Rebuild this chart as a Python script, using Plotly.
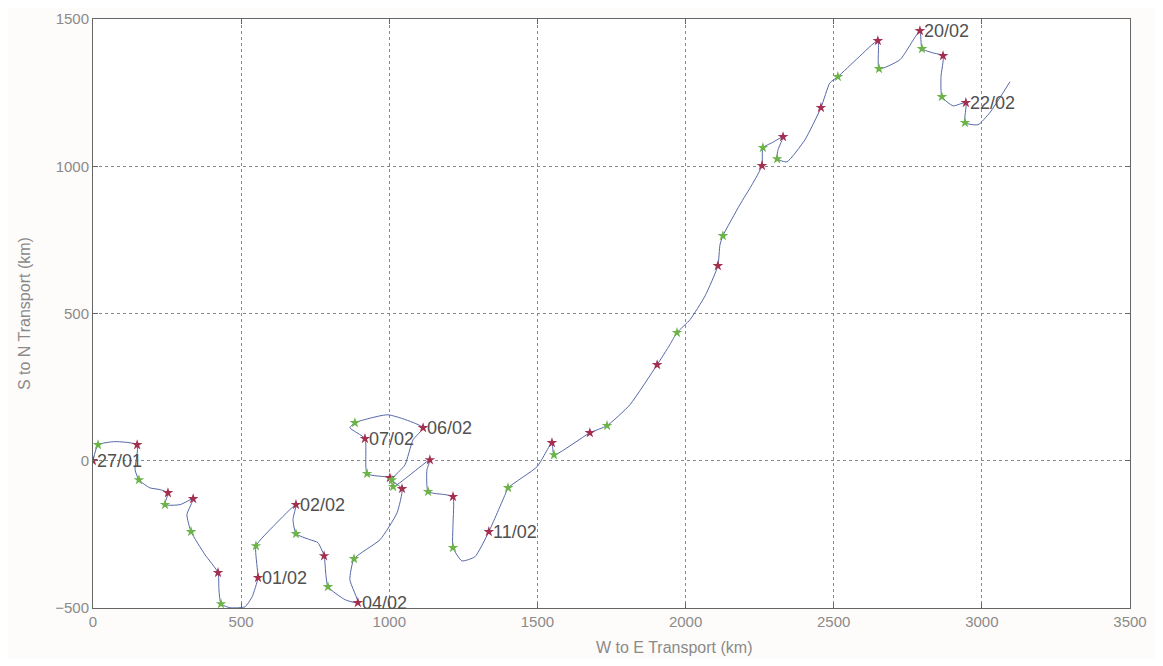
import plotly.graph_objects as go

# Trajectory (km): W->E transport, S->N transport
track_x = [0, 17, 74, 149, 142, 155, 192, 226, 253, 243, 294, 338, 317, 331, 378, 422, 425, 432,
           462, 513, 537, 557, 553, 550, 614, 685, 675, 685, 732, 759, 780, 786, 793, 851, 894,
           867, 881, 969, 1026, 1043, 1009, 1053, 1080, 1114, 996, 884, 867, 918, 925, 1002, 1013,
           1137, 1127, 1131, 1188, 1215, 1215, 1215, 1245, 1289, 1336, 1391, 1401, 1499, 1549,
           1556, 1677, 1735, 1812, 1904, 1947, 1971, 2015, 2066, 2109, 2116, 2126, 2183, 2224,
           2258, 2261, 2292, 2329, 2312, 2309, 2342, 2403, 2457, 2487, 2514, 2582, 2649, 2653,
           2724, 2791, 2798, 2835, 2869, 2862, 2865, 2903, 2946, 2943, 2987, 3027, 3095]
track_y = [0, 54, 65, 54, -31, -65, -92, -98, -109, -149, -149, -129, -183, -241, -319, -380,
           -438, -486, -499, -496, -462, -397, -353, -289, -217, -149, -200, -248, -268, -278,
           -323, -387, -428, -472, -482, -404, -333, -268, -177, -95, -65, -14, 71, 112, 156,
           129, 112, 75, -44, -58, -88, 3, -31, -105, -115, -122, -217, -295, -340, -326, -241,
           -115, -92, -20, 61, 20, 95, 119, 190, 326, 394, 435, 479, 560, 662, 733, 764, 869,
           937, 1002, 1063, 1080, 1100, 1056, 1025, 1015, 1090, 1199, 1283, 1304, 1368, 1426,
           1331, 1362, 1460, 1399, 1385, 1375, 1304, 1236, 1205, 1216, 1148, 1141, 1182, 1287]

# 00h positions (red) and 12h positions (green)
red_x = [0, 149, 253, 338, 422, 557, 685, 780, 894, 1043, 1114, 918, 1002, 1137, 1215, 1336,
         1549, 1677, 1904, 2109, 2258, 2329, 2457, 2649, 2791, 2869, 2946]
red_y = [0, 54, -109, -129, -380, -397, -149, -323, -482, -95, 112, 75, -58, 3, -122, -241,
         61, 95, 326, 662, 1002, 1100, 1199, 1426, 1460, 1375, 1216]
green_x = [17, 155, 243, 331, 432, 550, 685, 793, 881, 1009, 884, 925, 1013, 1131, 1215, 1401,
           1556, 1735, 1971, 2126, 2261, 2309, 2514, 2653, 2798, 2865, 2943]
green_y = [54, -65, -149, -241, -486, -289, -248, -428, -333, -65, 129, -44, -88, -105, -295,
           -92, 20, 119, 435, 764, 1063, 1025, 1304, 1331, 1399, 1236, 1148]

# Date labels
label_text = ["27/01", "01/02", "02/02", "04/02", "06/02", "07/02", "11/02", "20/02", "22/02"]
label_x = [0, 557, 685, 894, 1114, 918, 1336, 2791, 2946]
label_y = [0, -397, -149, -482, 112, 75, -241, 1460, 1216]

x_ticks = [0, 500, 1000, 1500, 2000, 2500, 3000, 3500]
y_ticks = [-500, 0, 500, 1000, 1500]

FONT = "Liberation Sans, Arial"

fig = go.Figure()
fig.add_trace(go.Scatter(x=track_x, y=track_y, mode="lines",
                         line=dict(color="#5668a8", width=1, shape="spline", smoothing=0.5),
                         hoverinfo="skip", showlegend=False))
fig.add_trace(go.Scatter(x=red_x, y=red_y, mode="markers",
                         marker=dict(color="#a3304f", size=8, symbol="star"),
                         showlegend=False))
fig.add_trace(go.Scatter(x=green_x, y=green_y, mode="markers",
                         marker=dict(color="#6cb34a", size=8, symbol="star"),
                         showlegend=False))

for t, x, y in zip(label_text, label_x, label_y):
    fig.add_annotation(x=x, y=y, text=t, showarrow=False, xanchor="left", yanchor="middle",
                       xshift=2, font=dict(family=FONT, size=18, color="#505050"))

# axis titles
fig.add_annotation(xref="paper", yref="paper", x=0.56, y=-0.067, yanchor="middle",
                   xanchor="center", text="W to E Transport (km)", showarrow=False,
                   font=dict(family=FONT, size=16, color="#8a8a8a"))
fig.add_annotation(xref="paper", yref="paper", x=-0.066, y=0.5, textangle=-90,
                   xanchor="center", yanchor="middle", text="S to N Transport (km)",
                   showarrow=False, font=dict(family=FONT, size=16, color="#8a8a8a"))

axis_common = dict(showgrid=True, gridcolor="#8a8a8a", griddash="dot", gridwidth=1,
                   showline=True, linecolor="#666666", linewidth=1, mirror="ticks",
                   ticks="inside", ticklen=5, tickcolor="#666666", zeroline=False,
                   automargin=False,
                   tickfont=dict(family=FONT, size=15, color="#8a8a8a"))

fig.update_xaxes(range=[0, 3500], tickvals=x_ticks, **axis_common)
fig.update_yaxes(range=[-500, 1500], tickvals=y_ticks, **axis_common)

fig.update_layout(width=1147, height=650, plot_bgcolor="white", paper_bgcolor="#fefcfb",
                  margin=dict(l=85, r=25, t=11, b=50), showlegend=False)

fig.write_html("out.html")
